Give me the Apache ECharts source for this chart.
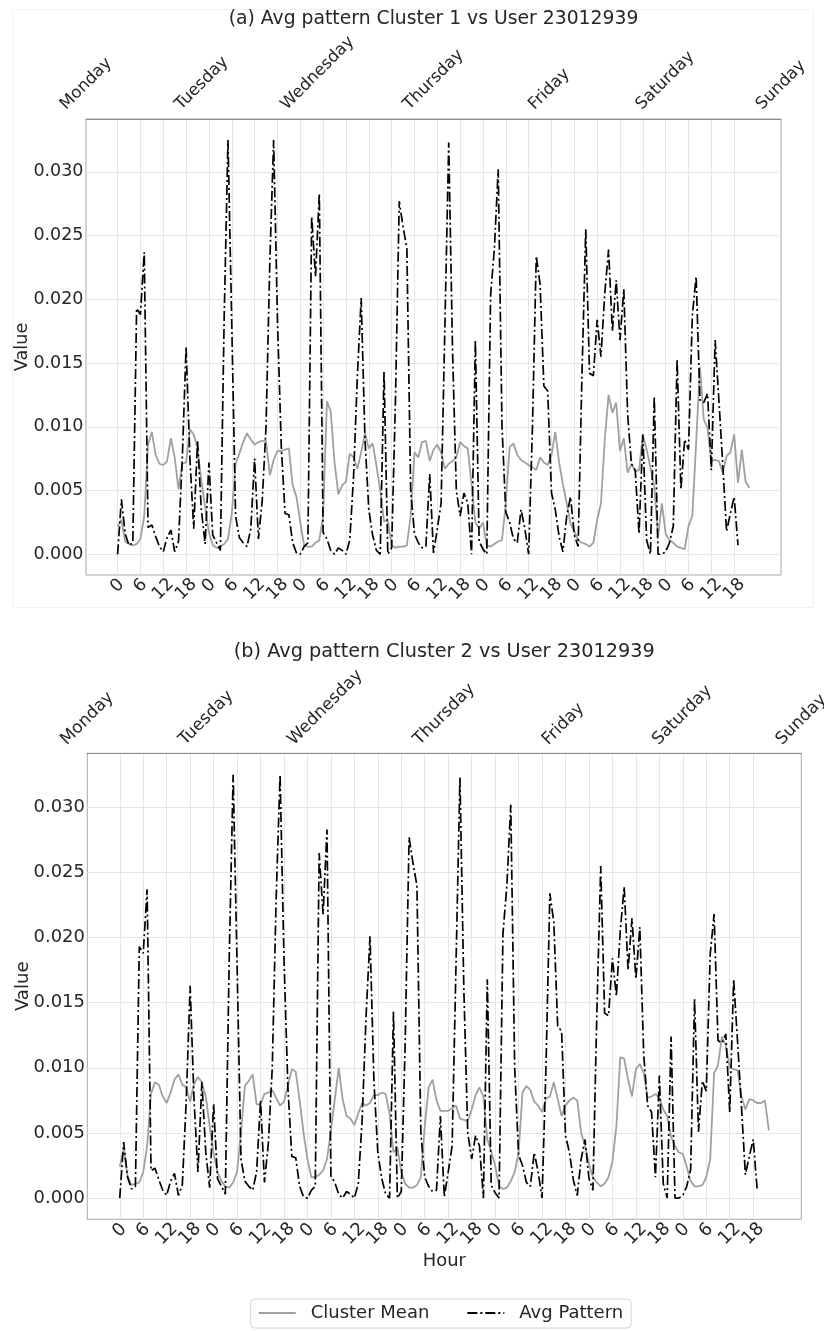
<!DOCTYPE html>
<html>
<head>
<meta charset="utf-8">
<title>Avg pattern vs cluster mean</title>
<script src="https://cdn.jsdelivr.net/npm/echarts@6/dist/echarts.min.js"></script>
<style>
  html, body { margin: 0; padding: 0; background: #ffffff; }
  #chart { width: 824px; height: 1331px; }
</style>
</head>
<body>
<div id="chart"></div>
<script>
// ---- data -------------------------------------------------------------
const dayNames = ['Monday', 'Tuesday', 'Wednesday', 'Thursday', 'Friday', 'Saturday', 'Sunday'];
const hourTicks = [0, 6, 12, 18, 24, 30, 36, 42, 48, 54, 60, 66, 72, 78, 84, 90, 96, 102,
                   108, 114, 120, 126, 132, 138, 144, 150, 156, 162];
const valueTicks = [0, 0.005, 0.010, 0.015, 0.020, 0.025, 0.030];

// hourly average weekly pattern of user 23012939 (hour 0 = Monday 00:00)
const avgPattern = [
  0.0000, 0.0043, 0.0016, 0.0007, 0.0009, 0.0193, 0.0188, 0.0237, 0.0021, 0.0023, 0.0014, 0.0006,
  0.0002, 0.0013, 0.0019, 0.0002, 0.0010, 0.0075, 0.0163, 0.0075, 0.0020, 0.0089, 0.0035, 0.0008,
  0.0072, 0.0015, 0.0009, 0.0003, 0.0185, 0.0325, 0.0180, 0.0030, 0.0013, 0.0009, 0.0006, 0.0020,
  0.0075, 0.0012, 0.0042, 0.0100, 0.0230, 0.0325, 0.0184, 0.0085, 0.0032, 0.0031, 0.0009, 0.0001,
  0.0000, 0.0006, 0.0009, 0.0265, 0.0218, 0.0283, 0.0017, 0.0012, 0.0003, 0.0000, 0.0005, 0.0003,
  0.0000, 0.0011, 0.0061, 0.0140, 0.0201, 0.0090, 0.0035, 0.0015, 0.0003, 0.0000, 0.0143, 0.0000,
  0.0005, 0.0120, 0.0277, 0.0257, 0.0240, 0.0050, 0.0016, 0.0009, 0.0005, 0.0006, 0.0063, 0.0001,
  0.0020, 0.0040, 0.0180, 0.0323, 0.0160, 0.0050, 0.0030, 0.0048, 0.0040, 0.0000, 0.0168, 0.0010,
  0.0004, 0.0000, 0.0203, 0.0240, 0.0302, 0.0100, 0.0033, 0.0025, 0.0012, 0.0009, 0.0035, 0.0020,
  0.0000, 0.0100, 0.0234, 0.0212, 0.0132, 0.0128, 0.0048, 0.0035, 0.0014, 0.0002, 0.0030, 0.0045,
  0.0015, 0.0006, 0.0140, 0.0255, 0.0142, 0.0140, 0.0184, 0.0155, 0.0205, 0.0239, 0.0175, 0.0215,
  0.0168, 0.0208, 0.0110, 0.0071, 0.0066, 0.0016, 0.0094, 0.0011, 0.0000, 0.0124, 0.0000, 0.0000,
  0.0002, 0.0009, 0.0022, 0.0153, 0.0051, 0.0090, 0.0082, 0.0187, 0.0218, 0.0121, 0.0119, 0.0126,
  0.0066, 0.0168, 0.0120, 0.0070, 0.0018, 0.0032, 0.0045, 0.0007
];

// hourly mean profile of cluster 1
const clusterMean1 = [
  0.0022, 0.0027, 0.0010, 0.0008, 0.0007, 0.0008, 0.0012, 0.0030, 0.0086, 0.0096, 0.0078, 0.0071,
  0.0070, 0.0073, 0.0091, 0.0076, 0.0051, 0.0071, 0.0072, 0.0098, 0.0094, 0.0083, 0.0058, 0.0037,
  0.0017, 0.0007, 0.0005, 0.0006, 0.0008, 0.0012, 0.0032, 0.0071, 0.0079, 0.0088, 0.0095, 0.0090,
  0.0086, 0.0088, 0.0089, 0.0089, 0.0062, 0.0074, 0.0081, 0.0081, 0.0082, 0.0083, 0.0054, 0.0045,
  0.0025, 0.0007, 0.0006, 0.0006, 0.0009, 0.0011, 0.0030, 0.0120, 0.0112, 0.0072, 0.0047, 0.0054,
  0.0057, 0.0079, 0.0076, 0.0067, 0.0080, 0.0095, 0.0083, 0.0087, 0.0070, 0.0050, 0.0026, 0.0026,
  0.0007, 0.0005, 0.0006, 0.0006, 0.0007, 0.0030, 0.0080, 0.0076, 0.0088, 0.0089, 0.0073, 0.0082,
  0.0086, 0.0080, 0.0067, 0.0071, 0.0073, 0.0076, 0.0088, 0.0085, 0.0083, 0.0055, 0.0025, 0.0020,
  0.0025, 0.0007, 0.0006, 0.0008, 0.0010, 0.0011, 0.0040, 0.0084, 0.0087, 0.0078, 0.0074, 0.0072,
  0.0070, 0.0068, 0.0066, 0.0076, 0.0072, 0.0070, 0.0078, 0.0096, 0.0072, 0.0055, 0.0040, 0.0024,
  0.0018, 0.0011, 0.0009, 0.0008, 0.0006, 0.0009, 0.0027, 0.0040, 0.0090, 0.0125, 0.0111, 0.0119,
  0.0081, 0.0091, 0.0064, 0.0071, 0.0065, 0.0066, 0.0094, 0.0082, 0.0068, 0.0053, 0.0014, 0.0040,
  0.0016, 0.0011, 0.0009, 0.0006, 0.0005, 0.0004, 0.0022, 0.0030, 0.0087, 0.0147, 0.0106, 0.0099,
  0.0073, 0.0074, 0.0073, 0.0064, 0.0077, 0.0080, 0.0094, 0.0056, 0.0082, 0.0057, 0.0052
];

// hourly mean profile of cluster 2
const clusterMean2 = [
  0.0024, 0.0038, 0.0017, 0.0010, 0.0011, 0.0012, 0.0020, 0.0040, 0.0080, 0.0089, 0.0087, 0.0078,
  0.0073, 0.0081, 0.0091, 0.0095, 0.0087, 0.0085, 0.0074, 0.0088, 0.0093, 0.0089, 0.0078, 0.0055,
  0.0034, 0.0020, 0.0013, 0.0009, 0.0008, 0.0012, 0.0020, 0.0050, 0.0086, 0.0090, 0.0095, 0.0072,
  0.0072, 0.0080, 0.0081, 0.0083, 0.0077, 0.0071, 0.0074, 0.0086, 0.0099, 0.0097, 0.0075, 0.0050,
  0.0030, 0.0016, 0.0016, 0.0018, 0.0021, 0.0030, 0.0052, 0.0076, 0.0100, 0.0076, 0.0063, 0.0061,
  0.0056, 0.0065, 0.0073, 0.0071, 0.0073, 0.0079, 0.0079, 0.0081, 0.0080, 0.0065, 0.0035, 0.0039,
  0.0020, 0.0011, 0.0008, 0.0008, 0.0010, 0.0016, 0.0055, 0.0085, 0.0091, 0.0075, 0.0067, 0.0067,
  0.0067, 0.0069, 0.0071, 0.0061, 0.0060, 0.0059, 0.0068, 0.0079, 0.0085, 0.0078, 0.0045, 0.0036,
  0.0025, 0.0009, 0.0007, 0.0008, 0.0013, 0.0020, 0.0035, 0.0081, 0.0086, 0.0083, 0.0074, 0.0071,
  0.0066, 0.0076, 0.0078, 0.0089, 0.0076, 0.0063, 0.0071, 0.0075, 0.0077, 0.0075, 0.0050, 0.0040,
  0.0026, 0.0016, 0.0012, 0.0009, 0.0011, 0.0016, 0.0028, 0.0055, 0.0108, 0.0107, 0.0091, 0.0078,
  0.0099, 0.0103, 0.0096, 0.0077, 0.0078, 0.0080, 0.0077, 0.0068, 0.0063, 0.0047, 0.0040, 0.0035,
  0.0034, 0.0024, 0.0013, 0.0009, 0.0009, 0.0010, 0.0016, 0.0030, 0.0096, 0.0102, 0.0124, 0.0117,
  0.0100, 0.0099, 0.0098, 0.0078, 0.0068, 0.0076, 0.0075, 0.0073, 0.0073, 0.0075, 0.0052
];

// ---- styling / layout ------------------------------------------------
const FONT = 'DejaVu Sans';
const INK = '#262626';
const GRID_LINE = '#e6e6e6';
const SPINE = '#a8a8a8';
const MEAN_COLOR = '#a0a0a0';

const panelLayout = [
  { grid: { left: 86, top: 119, width: 695, height: 456 }, s: 1.0,
    titleX: 433.5, titleTop: 8.5, titleSize: 18.8, dayGap: 6, showHourName: false },
  { grid: { left: 87.3, top: 753.3, width: 714, height: 466 }, s: 1.023,
    titleX: 444.3, titleTop: 640.6, titleSize: 19.3, dayGap: 5, showHourName: true }
];
const panelTitles = [
  '(a) Avg pattern Cluster 1 vs User 23012939',
  '(b) Avg pattern Cluster 2 vs User 23012939'
];
const panelMeans = [clusterMean1, clusterMean2];

// width of a string in the chart font
const measureCtx = document.createElement('canvas').getContext('2d');
function textWidth(text, size) {
  measureCtx.font = size + 'px "' + FONT + '"';
  return measureCtx.measureText(text).width;
}

// top axis: one category per weekday, spread edge to edge over the plot
function dayAxis(gridIndex) {
  return {
    type: 'category',
    gridIndex: gridIndex,
    position: 'top',
    boundaryGap: false,
    data: dayNames,
    axisLine: { show: true, lineStyle: { color: '#8c8c8c', width: 1.2 } },
    axisTick: { show: false },
    splitLine: { show: false },
    axisLabel: { show: false }
  };
}

// weekday names: rotated 45deg, centred over their tick on the top axis,
// lowest corner a few pixels above the top spine
function dayLabelSeries(panelIndex, size, gap) {
  return {
    type: 'custom',
    name: 'weekday',
    xAxisIndex: 2 * panelIndex + 1,
    yAxisIndex: panelIndex,
    clip: false,
    silent: true,
    z: 5,
    data: dayNames.map(function (d, i) { return [i, 0]; }),
    renderItem: function (params, api) {
      const i = api.value(0);
      const text = dayNames[i];
      const x = api.coord([i, 0])[0];
      const top = params.coordSys.y;
      const w = textWidth(text, size);
      const cy = top - gap - 0.3536 * (w + size);
      return {
        type: 'text',
        x: x,
        y: cy,
        rotation: Math.PI / 4,
        style: {
          text: text, fontSize: size, fontFamily: FONT, fill: INK,
          align: 'center', verticalAlign: 'middle'
        }
      };
    }
  };
}

// bottom axis: hour of day every 6 h, rotated 45deg and centred on the tick;
// single-digit labels are nudged up so all labels share the same top edge.
// Two blank guard labels outside the tick range keep the end labels from
// being dropped by the min/max label check.
function hourAxis(gridIndex, size, margin, showName) {
  const shortPad = 5;
  const first = hourTicks[0], last = hourTicks[hourTicks.length - 1];
  return {
    type: 'value',
    gridIndex: gridIndex,
    position: 'bottom',
    min: -8.3,
    max: 174.3,
    name: showName ? 'Hour' : '',
    nameLocation: 'middle',
    nameGap: 31.5,
    nameMoveOverlap: false,
    nameTextStyle: { fontSize: size, fontFamily: FONT, color: INK, lineHeight: 22 },
    axisLine: { show: false },
    axisTick: { show: false, customValues: hourTicks },
    splitLine: { show: true, lineStyle: { color: GRID_LINE, width: 1 } },
    axisLabel: {
      customValues: [first - 6].concat(hourTicks, [last + 6]),
      showMinLabel: false, showMaxLabel: false, hideOverlap: false,
      rotate: 45, align: 'center', verticalAlign: 'middle', margin: margin,
      fontSize: size, fontFamily: FONT, color: INK,
      formatter: function (v) {
        if (v < first || v > last) { return ''; }
        const h = Math.round(v) % 24;
        return (h < 10 ? '{s|' : '{l|') + h + '}';
      },
      rich: {
        s: { fontSize: size, fontFamily: FONT, color: INK, lineHeight: 2, padding: [0, 0, shortPad, shortPad] },
        l: { fontSize: size, fontFamily: FONT, color: INK, lineHeight: 2 }
      }
    }
  };
}

function valueAxis(gridIndex, size) {
  return {
    type: 'value',
    gridIndex: gridIndex,
    min: -0.00163,
    max: 0.03415,
    name: 'Value',
    nameLocation: 'middle',
    nameGap: 53,
    nameMoveOverlap: false,
    nameTextStyle: { fontSize: size * 1.01, fontFamily: FONT, color: INK, lineHeight: 22 },
    axisLine: { show: false },
    axisTick: { show: false, customValues: valueTicks },
    splitLine: { show: true, lineStyle: { color: GRID_LINE, width: 1 } },
    axisLabel: {
      customValues: valueTicks,
      showMinLabel: true, showMaxLabel: true,
      margin: 2.5,
      fontSize: size, fontFamily: FONT, color: INK,
      formatter: function (v) { return v.toFixed(3); }
    }
  };
}

const option = {
  animation: false,
  backgroundColor: '#ffffff',
  textStyle: { fontFamily: FONT, color: INK },
  title: panelLayout.map(function (p, i) {
    return {
      text: panelTitles[i],
      left: p.titleX,
      top: p.titleTop,
      textAlign: 'center',
      padding: 0,
      textStyle: { fontSize: p.titleSize, fontWeight: 'normal', fontFamily: FONT, color: INK, lineHeight: 22 }
    };
  }),
  legend: {
    data: ['Cluster Mean', 'Avg Pattern'],
    left: 250.7,
    top: 1299,
    orient: 'horizontal',
    itemWidth: 37,
    itemHeight: 14,
    itemGap: 37,
    padding: [5, 8, 6, 7],
    borderColor: '#d4d4d4',
    borderWidth: 1,
    borderRadius: 4,
    selectedMode: false,
    itemStyle: { opacity: 0 },
    textStyle: { fontSize: 18, fontFamily: FONT, color: INK, padding: [0, 0, 0, 10] }
  },
  grid: panelLayout.map(function (p) {
    return Object.assign({
      show: true, borderColor: SPINE, borderWidth: 1, backgroundColor: 'transparent',
      containLabel: false, outerBoundsMode: 'none'
    }, p.grid);
  }),
  xAxis: [],
  yAxis: [],
  series: [],
  graphic: [
    { type: 'rect', silent: true, z: -10,
      shape: { x: 12.5, y: 9.5, width: 801, height: 598 },
      style: { fill: 'none', stroke: '#f2f2f2', lineWidth: 1 } }
  ]
};

panelLayout.forEach(function (p, i) {
  const size = 17.5 * p.s;
  option.xAxis.push(hourAxis(i, size, 14.4 * p.s, p.showHourName));
  option.xAxis.push(dayAxis(i));
  option.yAxis.push(valueAxis(i, size));
  option.series.push({
    type: 'line', name: 'Cluster Mean',
    xAxisIndex: 2 * i, yAxisIndex: i,
    data: panelMeans[i].map(function (v, h) { return [h, v]; }),
    showSymbol: false, symbol: 'none', z: 2,
    itemStyle: { color: MEAN_COLOR },
    lineStyle: { color: MEAN_COLOR, width: 1.8 }
  });
  option.series.push({
    type: 'line', name: 'Avg Pattern',
    xAxisIndex: 2 * i, yAxisIndex: i,
    data: avgPattern.map(function (v, h) { return [h, v]; }),
    showSymbol: false, symbol: 'none', z: 3,
    itemStyle: { color: '#000000' },
    lineStyle: { color: '#000000', width: 1.7, type: [10, 3, 2, 3] }
  });
  option.series.push(dayLabelSeries(i, 16.6 * p.s, p.dayGap));
});

const chart = echarts.init(document.getElementById('chart'), null, { renderer: 'canvas' });
chart.setOption(option);
</script>
</body>
</html>
